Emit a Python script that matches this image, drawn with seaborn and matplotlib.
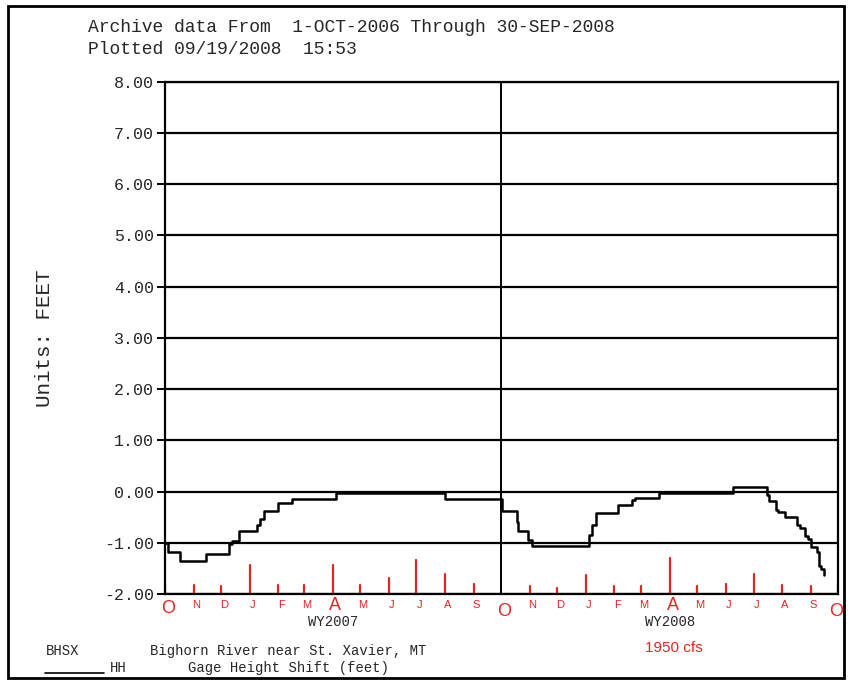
import pandas as pd
import seaborn as sns
import matplotlib.pyplot as plt
import matplotlib.lines as mlines

# step changes of gage height shift (feet), value holds until next date
shift_dates = [
    "2006-10-01", "2006-10-04", "2006-10-17", "2006-11-14", "2006-12-09",
    "2006-12-13", "2006-12-20", "2007-01-09", "2007-01-12", "2007-01-16",
    "2007-02-01", "2007-02-16", "2007-04-05", "2007-08-01", "2007-10-02",
    "2007-10-18", "2007-10-19", "2007-10-30", "2007-11-03", "2008-01-04",
    "2008-01-08", "2008-01-12", "2008-02-05", "2008-02-20", "2008-02-23",
    "2008-03-20", "2008-06-09", "2008-07-16", "2008-07-18", "2008-07-25",
    "2008-07-28", "2008-08-04", "2008-08-17", "2008-08-21", "2008-08-26",
    "2008-08-29", "2008-09-01", "2008-09-08", "2008-09-10", "2008-09-12",
    "2008-09-15", "2008-09-16",
]
shift_feet = [
    -1.00, -1.18, -1.36, -1.21, -1.02,
    -0.96, -0.77, -0.65, -0.54, -0.37,
    -0.22, -0.14, -0.03, -0.14, -0.37,
    -0.60, -0.77, -0.95, -1.06, -0.85,
    -0.65, -0.41, -0.26, -0.17, -0.12,
    -0.03, 0.08, -0.07, -0.18, -0.36,
    -0.40, -0.49, -0.66, -0.72, -0.86,
    -0.92, -1.09, -1.18, -1.45, -1.52,
    -1.60, -1.62,
]

# hand-drawn red month marks
month_letters = ["O", "N", "D", "J", "F", "M", "A", "M", "J", "J", "A", "S",
                 "O", "N", "D", "J", "F", "M", "A", "M", "J", "J", "A", "S", "O"]
mark_heights = [0.17, 0.18, 0.16, 0.57, 0.18, 0.18, 0.57, 0.18, 0.31, 0.66, 0.39, 0.20,
                0.0, 0.16, 0.12, 0.37, 0.16, 0.16, 0.70, 0.16, 0.20, 0.39, 0.18, 0.16, 0.20]

y_ticks = [8, 7, 6, 5, 4, 3, 2, 1, 0, -1, -2]

df = pd.DataFrame({"date": pd.to_datetime(shift_dates), "shift": shift_feet})
months = pd.date_range("2006-10-01", "2008-10-01", freq="MS")

sns.set_style("white")
mono = "Liberation Mono"
red = "#e8231f"
fig = plt.figure(figsize=(8.51, 6.82), dpi=100)
ax = fig.add_axes([0.194, 0.129, 0.791, 0.751])

for v in y_ticks:
    ax.axhline(v, color="black", lw=1.6, zorder=1)
ax.axvline(pd.Timestamp("2007-10-01"), color="black", lw=1.4, zorder=1)

sns.lineplot(data=df, x="date", y="shift", drawstyle="steps-post", color="black",
             lw=1.8, estimator=None, ax=ax, zorder=3)

for m, h in zip(months, mark_heights):
    if h > 0:
        ax.plot([m, m], [-2, -2 + h], color=red, lw=1.6, zorder=2)

for i, (m, lab) in enumerate(zip(months, month_letters)):
    size, dy = 8, -0.22
    if lab == "A" and m.month == 4:
        size, dy = 13, -0.22
    if lab == "O":
        size, dy = 13, -0.34 if i > 0 else -0.28
    ax.text(m + pd.Timedelta(days=3 if i < 24 else -2), -2 + dy, lab, color=red,
            fontsize=size, ha="center", va="center", family="Liberation Sans", clip_on=False)

ax.set_xlim(pd.Timestamp("2006-10-01"), pd.Timestamp("2008-10-01"))
ax.set_ylim(-2, 8)
ax.set_yticks(y_ticks)
ax.set_yticklabels([f"{v:.2f}" for v in y_ticks], family=mono, fontsize=12)
ax.tick_params(axis="y", length=6, width=1.4, color="black", left=True, pad=2)
ax.set_xticks([])
ax.set_xlabel("")
ax.set_ylabel("Units: FEET", family=mono, fontsize=15, labelpad=36)
for s in ax.spines.values():
    s.set_color("black")
    s.set_linewidth(1.6)

ax.text(pd.Timestamp("2007-04-01"), -2.55, "WY2007", family=mono, fontsize=10,
        ha="center", va="center", clip_on=False)
ax.text(pd.Timestamp("2008-04-01"), -2.55, "WY2008", family=mono, fontsize=10,
        ha="center", va="center", clip_on=False)

fig.text(88 / 851, 1 - 27 / 682, "Archive data From  1-OCT-2006 Through 30-SEP-2008",
         family=mono, fontsize=13, va="center")
fig.text(88 / 851, 1 - 50 / 682, "Plotted 09/19/2008  15:53",
         family=mono, fontsize=13, va="center")
fig.text(46 / 851, 1 - 651 / 682, "BHSX", family=mono, fontsize=10, va="center")
fig.text(150 / 851, 1 - 651 / 682, "Bighorn River near St. Xavier, MT",
         family=mono, fontsize=10, va="center")
fig.lines.append(mlines.Line2D([45 / 851, 104 / 851], [1 - 673 / 682, 1 - 673 / 682],
                               transform=fig.transFigure, color="black", lw=1.2))
fig.text(110 / 851, 1 - 668 / 682, "HH", family=mono, fontsize=10, va="center")
fig.text(188 / 851, 1 - 668 / 682, "Gage Height Shift (feet)",
         family=mono, fontsize=10, va="center")
fig.text(645 / 851, 1 - 648 / 682, "1950 cfs", color=red,
         family="Liberation Sans", fontsize=11, va="center")

fig.patches.append(plt.Rectangle((8 / 851, 4 / 682), 836 / 851, 672 / 682,
                                 transform=fig.transFigure, fill=False,
                                 edgecolor="black", lw=2))

fig.savefig("out.png", dpi=100)
